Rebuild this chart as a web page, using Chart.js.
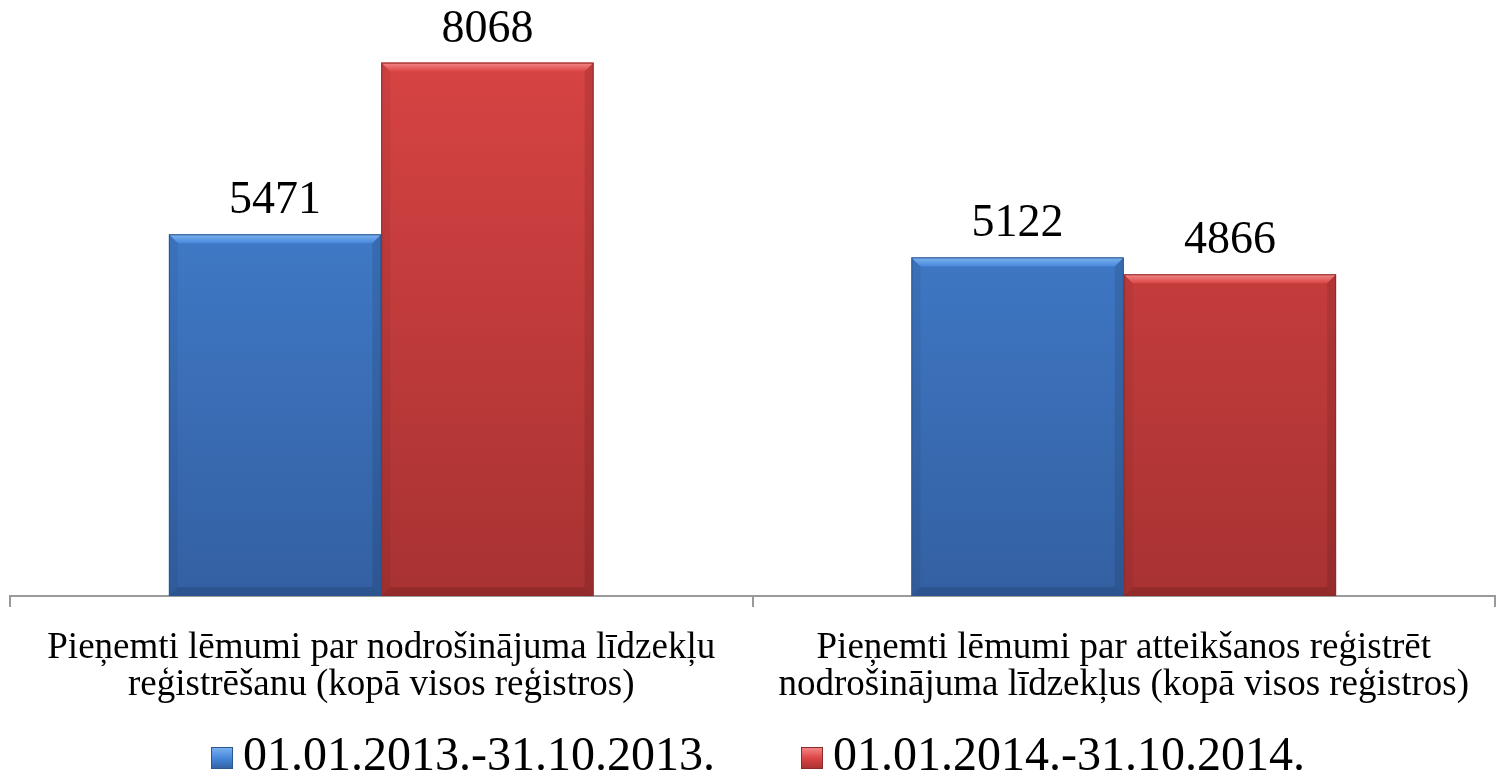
<!DOCTYPE html>
<html>
<head>
<meta charset="utf-8">
<script src="https://cdn.jsdelivr.net/npm/chart.js@4.4.1/dist/chart.umd.min.js"></script>
<style>
  html, body { margin: 0; padding: 0; background: #fff; }
  #wrap { width: 1496px; height: 774px; }
</style>
</head>
<body>
<div id="wrap"><canvas id="chart"></canvas></div>
<script>
// ===== DATA =====
const categories = [
    ['Pieņemti lēmumi par nodrošinājuma līdzekļu', 'reģistrēšanu (kopā visos reģistros)'],
    ['Pieņemti lēmumi par atteikšanos reģistrēt', 'nodrošinājuma līdzekļus (kopā visos reģistros)']
];
const seriesNames = ['01.01.2013.-31.10.2013.', '01.01.2014.-31.10.2014.'];
const values2013 = [5471, 5122];
const values2014 = [8068, 4866];

const SERIF = "'Liberation Serif', 'Times New Roman', serif";

// colours: [bevel highlight, top, bottom, edge]
const PAL = {
    blue: ['#7fb3f0', '#4788dc', '#3360a2', '#2b568f'],
    red:  ['#f48a8a', '#dc4545', '#a83232', '#8c2a2a']
};

function barGradient(pal) {
    return (ctx) => {
        const area = ctx.chart.chartArea;
        if (!area) return pal[1];
        const g = ctx.chart.ctx.createLinearGradient(0, area.top, 0, area.bottom);
        g.addColorStop(0, pal[1]);
        g.addColorStop(1, pal[2]);
        return g;
    };
}

// bevel look on each bar, drawn over the library's bar elements
const bevelPlugin = {
    id: 'bevel',
    afterDatasetsDraw(chart) {
        const c = chart.ctx;
        chart.data.datasets.forEach((ds, i) => {
            const pal = ds._pal;
            chart.getDatasetMeta(i).data.forEach(bar => {
                const l = bar.x - bar.width / 2, r = bar.x + bar.width / 2;
                const t = bar.y, b = bar.base, d = 9;
                c.save();
                let g = c.createLinearGradient(0, t, 0, t + d);
                g.addColorStop(0, pal[0]);
                g.addColorStop(1, pal[1]);
                c.fillStyle = g;
                c.beginPath();
                c.moveTo(l, t); c.lineTo(r, t); c.lineTo(r - d, t + d); c.lineTo(l + d, t + d); c.closePath();
                c.fill();
                c.fillStyle = 'rgba(0,0,0,0.10)';
                c.beginPath();
                c.moveTo(r, t); c.lineTo(r, b); c.lineTo(r - d, b - d); c.lineTo(r - d, t + d); c.closePath();
                c.fill();
                c.fillStyle = 'rgba(0,0,0,0.05)';
                c.beginPath();
                c.moveTo(l, t); c.lineTo(l, b); c.lineTo(l + d, b - d); c.lineTo(l + d, t + d); c.closePath();
                c.fill();
                c.fillStyle = 'rgba(0,0,0,0.12)';
                c.beginPath();
                c.moveTo(l, b); c.lineTo(r, b); c.lineTo(r - d, b - d); c.lineTo(l + d, b - d); c.closePath();
                c.fill();
                c.strokeStyle = pal[3];
                c.lineWidth = 1;
                c.strokeRect(l + 0.5, t + 0.5, bar.width - 1, b - t - 1);
                c.restore();
            });
        });
    }
};

// value labels above bars
const valueLabels = {
    id: 'valueLabels',
    afterDatasetsDraw(chart) {
        const c = chart.ctx;
        c.save();
        c.font = '46px ' + SERIF;
        c.fillStyle = '#000';
        c.textAlign = 'center';
        c.textBaseline = 'alphabetic';
        chart.data.datasets.forEach((ds, i) => {
            chart.getDatasetMeta(i).data.forEach((bar, j) => {
                c.fillText(ds.data[j], bar.x, bar.y - 21);
            });
        });
        c.restore();
    }
};

// legend row at the bottom (box + text per series, wide gap between)
const bottomLegend = {
    id: 'bottomLegend',
    afterDraw(chart) {
        const c = chart.ctx;
        const box = 22, gap = 10, spacing = 86;
        c.save();
        c.font = '48px ' + SERIF;
        c.textBaseline = 'alphabetic';
        c.textAlign = 'left';
        const items = chart.data.datasets.map(ds => ({ ds, w: c.measureText(ds.label).width }));
        const total = items.reduce((s, it) => s + box + gap + it.w, 0) + spacing * (items.length - 1);
        let x = chart.width / 2 + 10 - total / 2;
        const base = chart.height - 4;
        items.forEach(it => {
            const pal = it.ds._pal;
            const top = base - 23;
            const g = c.createLinearGradient(0, top, 0, top + box);
            g.addColorStop(0, pal[0]);
            g.addColorStop(0.5, pal[1]);
            g.addColorStop(1, pal[2]);
            c.fillStyle = g;
            c.fillRect(x, top, box, box);
            c.strokeStyle = pal[3];
            c.lineWidth = 1;
            c.strokeRect(x + 0.5, top + 0.5, box - 1, box - 1);
            c.fillStyle = '#000';
            c.fillText(it.ds.label, x + box + gap, base);
            x += box + gap + it.w + spacing;
        });
        c.restore();
    }
};

new Chart(document.getElementById('chart'), {
    type: 'bar',
    data: {
        labels: categories,
        datasets: [
            { label: seriesNames[0], data: values2013, _pal: PAL.blue, backgroundColor: barGradient(PAL.blue), borderWidth: 0 },
            { label: seriesNames[1], data: values2014, _pal: PAL.red, backgroundColor: barGradient(PAL.red), borderWidth: 0 }
        ]
    },
    options: {
        responsive: true,
        maintainAspectRatio: false,
        animation: false,
        layout: { padding: { top: 1, left: 10, right: 1, bottom: 47 } },
        datasets: { bar: { barPercentage: 1, categoryPercentage: 0.572 } },
        plugins: {
            legend: { display: false },
            tooltip: { enabled: false }
        },
        scales: {
            x: {
                grid: { offset: true, drawOnChartArea: false, tickLength: 11, color: '#9a9a9a', lineWidth: 2 },
                border: { color: '#9a9a9a', width: 2 },
                ticks: { font: { family: SERIF, size: 37, lineHeight: 1.0 }, color: '#000', padding: 23, maxRotation: 0 }
            },
            y: { display: false, min: 0, max: 9000 }
        }
    },
    plugins: [bevelPlugin, valueLabels, bottomLegend]
});
</script>
</body>
</html>
